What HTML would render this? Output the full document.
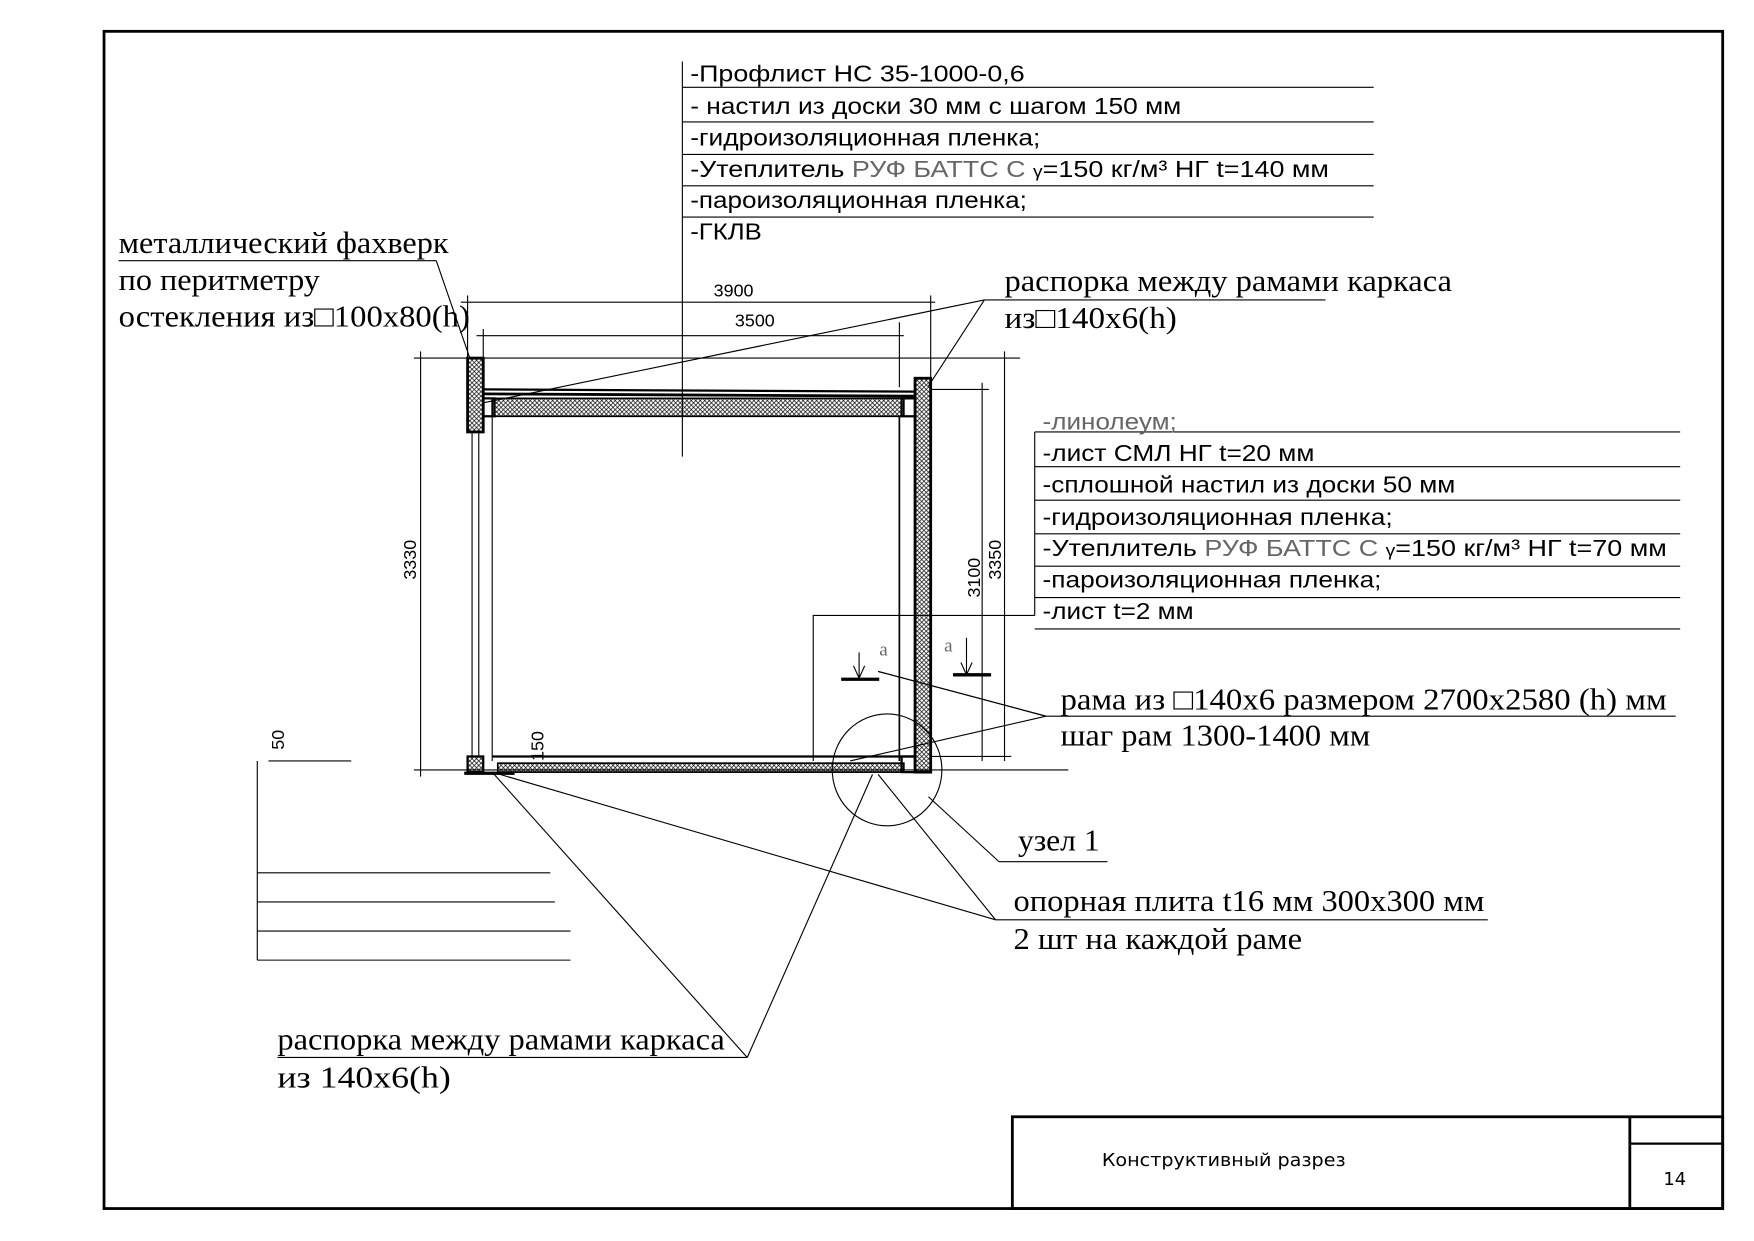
<!DOCTYPE html>
<html><head><meta charset="utf-8"><style>
html,body{margin:0;padding:0;background:#fff}
svg{display:block}
.s{font-family:"Liberation Sans",sans-serif;font-size:21px;fill:#000}
.r{font-family:"Liberation Serif",serif;font-size:27px;fill:#000}
.g{fill:#666}
</style></head><body>
<svg width="1754" height="1241" viewBox="0 0 1568 1109" preserveAspectRatio="none" xmlns="http://www.w3.org/2000/svg">
<defs>
<pattern id="h" width="4" height="4" patternUnits="userSpaceOnUse">
<path d="M0,0L4,4M4,0L0,4" stroke="#000" stroke-width="0.6"/>
</pattern>
</defs>
<g fill="none" stroke="#000">
<rect x="93" y="28" width="1447" height="1052" stroke-width="2.5"/>
<rect x="905" y="998" width="635" height="82" stroke-width="2.5"/>
<line x1="1457" y1="998" x2="1457" y2="1080" stroke-width="2.5"/>
<line x1="1457" y1="1022" x2="1540" y2="1022" stroke-width="2"/>
<g stroke-width="1">
<line x1="610" y1="78" x2="1228" y2="78"/><line x1="610" y1="109" x2="1228" y2="109"/>
<line x1="610" y1="138" x2="1228" y2="138"/><line x1="610" y1="166" x2="1228" y2="166"/>
<line x1="610" y1="194" x2="1228" y2="194"/><line x1="610" y1="55" x2="610" y2="408"/>
<line x1="925" y1="386" x2="1502" y2="386"/><line x1="925" y1="417" x2="1502" y2="417"/>
<line x1="925" y1="447" x2="1502" y2="447"/><line x1="925" y1="477" x2="1502" y2="477"/>
<line x1="925" y1="506" x2="1502" y2="506"/><line x1="925" y1="534" x2="1502" y2="534"/>
<line x1="925" y1="562" x2="1502" y2="562"/><line x1="925" y1="386" x2="925" y2="550"/>
<polyline points="925,550 727,550 727,680"/>
<line x1="106" y1="233" x2="390" y2="233"/><line x1="390" y1="233" x2="420" y2="320"/>
<line x1="880" y1="268" x2="1185" y2="268"/><line x1="880" y1="268" x2="432" y2="360"/><line x1="880" y1="268" x2="830" y2="345"/>
<line x1="935" y1="640" x2="1498" y2="640"/><line x1="935" y1="640" x2="785" y2="600"/><line x1="935" y1="640" x2="760" y2="680"/>
<line x1="893" y1="770" x2="990" y2="770"/><line x1="893" y1="770" x2="830" y2="712"/>
<line x1="890" y1="822" x2="1330" y2="822"/><line x1="890" y1="822" x2="440" y2="690"/><line x1="890" y1="822" x2="785" y2="692"/>
<line x1="248" y1="945" x2="668" y2="945"/><line x1="668" y1="945" x2="440" y2="690"/><line x1="668" y1="945" x2="780" y2="692"/>
<ellipse cx="793" cy="688" rx="49" ry="50"/>
<line x1="240" y1="680" x2="314" y2="680"/><line x1="230" y1="680" x2="230" y2="858"/>
<line x1="230" y1="780" x2="492" y2="780"/><line x1="230" y1="806" x2="496" y2="806"/>
<line x1="230" y1="832" x2="510" y2="832"/><line x1="230" y1="858" x2="510" y2="858"/>
<line x1="412" y1="270" x2="836" y2="270"/><line x1="418" y1="264" x2="418" y2="320"/><line x1="832" y1="264" x2="832" y2="338"/>
<line x1="426" y1="300" x2="808" y2="300"/><line x1="432" y1="294" x2="432" y2="346"/><line x1="804" y1="288" x2="804" y2="346"/>
<line x1="370" y1="320" x2="912" y2="320"/><line x1="370" y1="688" x2="955" y2="688"/>
<line x1="376" y1="314" x2="376" y2="694"/>
<line x1="832" y1="348" x2="884" y2="348"/><line x1="878" y1="342" x2="878" y2="680"/><line x1="898" y1="314" x2="898" y2="680"/>
<line x1="832" y1="676" x2="904" y2="676"/>
<line x1="768" y1="583" x2="768" y2="606"/><line x1="864" y1="570" x2="864" y2="603"/>
<polyline points="763,595 768,606 773,595"/><polyline points="859,592 864,603 869,592"/>
<line x1="785" y1="600" x2="935" y2="640"/>
</g>
<line x1="752" y1="607" x2="786" y2="607" stroke-width="3"/>
<line x1="852" y1="603" x2="886" y2="603" stroke-width="3"/>
<rect x="418" y="320" width="14" height="66" fill="url(#h)" stroke-width="2.5"/>
<rect x="818" y="338" width="14" height="352" fill="url(#h)" stroke-width="2.5"/>
<line x1="432" y1="348" x2="818" y2="350" stroke-width="2"/>
<line x1="432" y1="352" x2="818" y2="354" stroke-width="2.5"/>
<rect x="440" y="356" width="368" height="16" fill="url(#h)" stroke-width="1.5"/>
<rect x="432" y="356" width="10" height="16" stroke-width="2"/>
<rect x="806" y="356" width="12" height="16" stroke-width="2"/>
<line x1="422" y1="386" x2="422" y2="676" stroke-width="1"/><line x1="428" y1="386" x2="428" y2="676" stroke-width="1"/>
<line x1="440" y1="372" x2="440" y2="680" stroke-width="1"/>
<line x1="804" y1="372" x2="804" y2="680" stroke-width="1.5"/>
<line x1="440" y1="676" x2="818" y2="676" stroke-width="2"/>
<rect x="445" y="682" width="363" height="8" fill="url(#h)" stroke-width="1.5"/>
<rect x="418" y="676" width="14" height="14" fill="url(#h)" stroke-width="2"/>
<rect x="806" y="676" width="12" height="14" stroke-width="2"/>
<line x1="415" y1="691" x2="460" y2="691" stroke-width="3"/>
</g>
<g class="s" lengthAdjust="spacingAndGlyphs">
<text x="617" y="73" textLength="299" lengthAdjust="spacingAndGlyphs">-Профлист НС  35-1000-0,6</text>
<text x="617" y="102" textLength="439" lengthAdjust="spacingAndGlyphs">- настил из доски 30 мм с шагом 150 мм</text>
<text x="617" y="130" textLength="313" lengthAdjust="spacingAndGlyphs">-гидроизоляционная пленка;</text>
<text x="617" y="158" textLength="571" lengthAdjust="spacingAndGlyphs">-Утеплитель <tspan class="g">РУФ БАТТС С</tspan>  <tspan font-size="15">γ</tspan>=150 кг/м³ НГ t=140 мм</text>
<text x="617" y="186" textLength="301" lengthAdjust="spacingAndGlyphs">-пароизоляционная пленка;</text>
<text x="617" y="214" textLength="64" lengthAdjust="spacingAndGlyphs">-ГКЛВ</text>
<text x="932" y="384" class="g" textLength="120" lengthAdjust="spacingAndGlyphs">-линолеум;</text>
<text x="932" y="412" textLength="243" lengthAdjust="spacingAndGlyphs">-лист СМЛ НГ t=20 мм</text>
<text x="932" y="440" textLength="369" lengthAdjust="spacingAndGlyphs">-сплошной настил из доски 50 мм</text>
<text x="932" y="469" textLength="313" lengthAdjust="spacingAndGlyphs">-гидроизоляционная пленка;</text>
<text x="932" y="497" textLength="558" lengthAdjust="spacingAndGlyphs">-Утеплитель <tspan class="g">РУФ БАТТС С</tspan>  <tspan font-size="15">γ</tspan>=150 кг/м³ НГ t=70 мм</text>
<text x="932" y="525" textLength="303" lengthAdjust="spacingAndGlyphs">-пароизоляционная пленка;</text>
<text x="932" y="553" textLength="135" lengthAdjust="spacingAndGlyphs">-лист t=2 мм</text>
<text x="638" y="265" font-size="16">3900</text>
<text x="657" y="292" font-size="16">3500</text>
<text transform="translate(372,518) rotate(-90)" font-size="16">3330</text>
<text transform="translate(876,534) rotate(-90)" font-size="16">3100</text>
<text transform="translate(895,518) rotate(-90)" font-size="16">3350</text>
<text transform="translate(486,680) rotate(-90)" font-size="16">150</text>
<text transform="translate(254,670) rotate(-90)" font-size="16">50</text>
<text x="985" y="1042" font-size="16" font-family="DejaVu Sans" textLength="218" lengthAdjust="spacingAndGlyphs">Конструктивный разрез</text>
<text x="1487" y="1059" font-size="16" font-family="DejaVu Sans">14</text>
</g>
<g class="r">
<text x="106" y="226" textLength="295" lengthAdjust="spacingAndGlyphs">металлический фахверк</text>
<text x="106" y="259" textLength="180" lengthAdjust="spacingAndGlyphs">по перитметру</text>
<text x="106" y="292" textLength="314" lengthAdjust="spacingAndGlyphs">остекления из□100x80(h)</text>
<text x="898" y="260" textLength="400" lengthAdjust="spacingAndGlyphs">распорка между рамами каркаса</text>
<text x="898" y="293" textLength="154" lengthAdjust="spacingAndGlyphs">из□140x6(h)</text>
<text x="948" y="634" textLength="542" lengthAdjust="spacingAndGlyphs">рама из □140x6 размером 2700x2580 (h) мм</text>
<text x="948" y="666" textLength="277" lengthAdjust="spacingAndGlyphs">шаг рам 1300-1400 мм</text>
<text x="910" y="760" textLength="73" lengthAdjust="spacingAndGlyphs">узел 1</text>
<text x="906" y="814" textLength="421" lengthAdjust="spacingAndGlyphs">опорная плита t16 мм 300x300 мм</text>
<text x="906" y="848" textLength="258" lengthAdjust="spacingAndGlyphs">2 шт на каждой раме</text>
<text x="248" y="938" textLength="400" lengthAdjust="spacingAndGlyphs">распорка между рамами каркаса</text>
<text x="248" y="972" textLength="155" lengthAdjust="spacingAndGlyphs">из   140x6(h)</text>
<text x="786" y="586" font-size="17" class="g">a</text>
<text x="844" y="582" font-size="17" class="g">a</text>
</g>
</svg>
</body></html>
